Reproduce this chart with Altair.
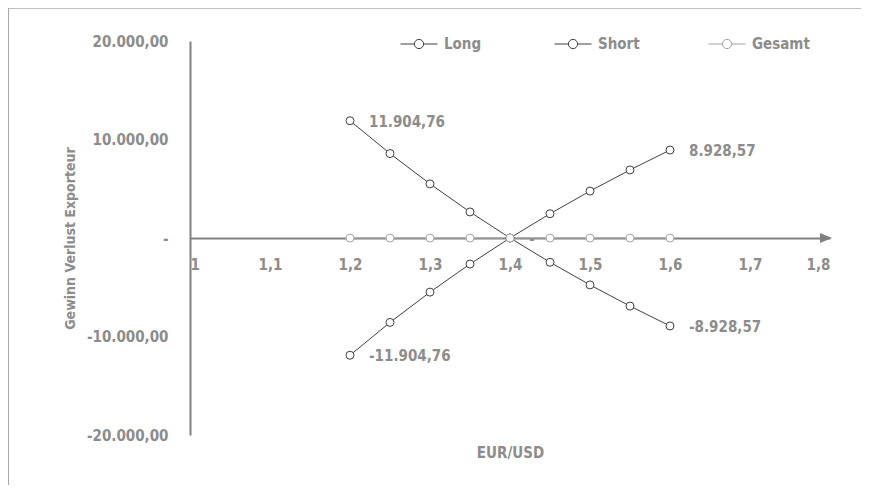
import altair as alt
import pandas as pd

# ---- data ----
x_values = [1.2, 1.25, 1.3, 1.35, 1.4, 1.45, 1.5, 1.55, 1.6]
long_values = [-11904.76, -8571.43, -5494.51, -2645.50, 0.0, 2463.05, 4761.90, 6912.44, 8928.57]
short_values = [11904.76, 8571.43, 5494.51, 2645.50, 0.0, -2463.05, -4761.90, -6912.44, -8928.57]
total_values = [0.0, 0.0, 0.0, 0.0, 0.0, 0.0, 0.0, 0.0, 0.0]

series_names = ["Long", "Short", "Gesamt"]
series_colors = ["#404040", "#404040", "#a6a6a6"]
series_widths = [1, 1, 2]

x_ticks = [1.0, 1.1, 1.2, 1.3, 1.4, 1.5, 1.6, 1.7, 1.8]
x_tick_labels = ["1", "1,1", "1,2", "1,3", "1,4", "1,5", "1,6", "1,7", "1,8"]
y_ticks = [-20000, -10000, 0, 10000, 20000]
y_tick_labels = ["-20.000,00", "-10.000,00", "-", "10.000,00", "20.000,00"]

label_x = [1.2, 1.2, 1.6, 1.6, 1.4]
label_y = [11904.76, -11904.76, 8928.57, -8928.57, 0.0]
label_text = ["11.904,76", "-11.904,76", "8.928,57", "-8.928,57", "-"]

# ---- styling ----
W, H = 640, 394
FONT = "DejaVu Sans Condensed"
TXT = "#8c8c8c"
AXIS = "#808080"

rows = []
for name, vals in zip(series_names, [long_values, short_values, total_values]):
    for xv, yv in zip(x_values, vals):
        rows.append({"series": name, "x": xv, "y": yv})
df = pd.DataFrame(rows)
labels_df = pd.DataFrame({"x": label_x, "y": label_y, "text": label_text})

x_expr = "".join(
    f"round(datum.value*10) == {round(v*10)} ? '{t}' : " for v, t in zip(x_ticks, x_tick_labels)
) + "''"
y_expr = "".join(
    f"datum.value == {v} ? '{t}' : " for v, t in zip(y_ticks, y_tick_labels)
) + "''"

x_scale = alt.Scale(domain=[1.0, 1.8], nice=False, zero=False)
y_scale = alt.Scale(domain=[-20000, 20000], nice=False)
color_scale = alt.Scale(domain=series_names, range=series_colors)

legend_path = "M-1,0H-0.25M0.25,0H1M0.25,0A0.25,0.25 0 1 1 -0.25,0A0.25,0.25 0 1 1 0.25,0"

x_enc = alt.X(
    "x:Q", scale=x_scale,
    axis=alt.Axis(
        values=x_ticks, labelExpr=x_expr, offset=-H / 2, domain=True,
        domainColor=AXIS, domainWidth=2, ticks=False, grid=False,
        labelPadding=19, labelFont=FONT, labelFontSize=15, labelFontWeight="bold",
        labelColor=TXT, title="EUR/USD", titleFont=FONT, titleFontSize=15,
        titleFontWeight="bold", titleColor=TXT, titleY=214, titleBaseline="middle",
    ),
)
y_enc = alt.Y(
    "y:Q", scale=y_scale,
    axis=alt.Axis(
        values=y_ticks, labelExpr=y_expr, domain=True, domainColor=AXIS,
        domainWidth=2, ticks=False, grid=False, labelPadding=22,
        labelFont=FONT, labelFontSize=15, labelFontWeight="bold", labelColor=TXT,
        title="Gewinn Verlust Exporteur", titleFont=FONT, titleFontSize=14,
        titleFontWeight="bold", titleColor=TXT, titleX=-120, titleY=H / 2,
        titleAlign="center", titleBaseline="middle", titleAngle=-90,
    ),
)

base = alt.Chart(df)

lines = base.mark_line().encode(
    x=x_enc, y=y_enc,
    color=alt.Color(
        "series:N", scale=color_scale, sort=series_names,
        legend=alt.Legend(
            orient="none", legendX=210, legendY=-16, direction="horizontal",
            columns=3, title=None, symbolType=legend_path, symbolSize=1369,
            symbolStrokeWidth=1, labelFont=FONT, labelFontSize=15,
            labelFontWeight="bold", labelColor=TXT, labelOffset=6,
            columnPadding=50, gridAlign="all",
        ),
    ),
    strokeWidth=alt.StrokeWidth(
        "series:N", scale=alt.Scale(domain=series_names, range=series_widths), legend=None
    ),
    order=alt.Order("x:Q"),
)

points = base.mark_point(filled=True, fill="white", size=64, strokeWidth=1, opacity=1).encode(
    x="x:Q", y="y:Q",
    stroke=alt.Stroke("series:N", scale=color_scale, legend=None),
)

arrow = alt.Chart(pd.DataFrame({"x": [1.8], "y": [0.0]})).mark_point(
    shape="M1,0L-1,-0.85L-1,0.85Z", filled=True, color=AXIS, size=144, xOffset=-4, opacity=1
).encode(x="x:Q", y="y:Q")

texts = alt.Chart(labels_df).mark_text(
    align="left", baseline="middle", dx=19, dy=1, font=FONT, fontSize=15,
    fontWeight="bold", color=TXT,
).encode(x="x:Q", y="y:Q", text="text:N")

border_top = alt.Chart(pd.DataFrame({"a": [0]})).mark_rule(color="#bfbfbf", strokeWidth=1).encode(
    x=alt.value(-182), x2=alt.value(700), y=alt.value(-32.5)
)
border_left = alt.Chart(pd.DataFrame({"a": [0]})).mark_rule(color="#a6a6a6", strokeWidth=1).encode(
    x=alt.value(-181.5), y=alt.value(-33), y2=alt.value(460)
)

chart = alt.layer(border_top, border_left, lines, points, arrow, texts).properties(
    width=W, height=H, padding={"left": 182, "top": 33, "right": 31, "bottom": 50},
    autosize=alt.AutoSizeParams(type="none"), background="white",
).configure_view(strokeWidth=0, stroke=None)

chart.save("out.html", embed_options={"renderer": "svg", "actions": False})
